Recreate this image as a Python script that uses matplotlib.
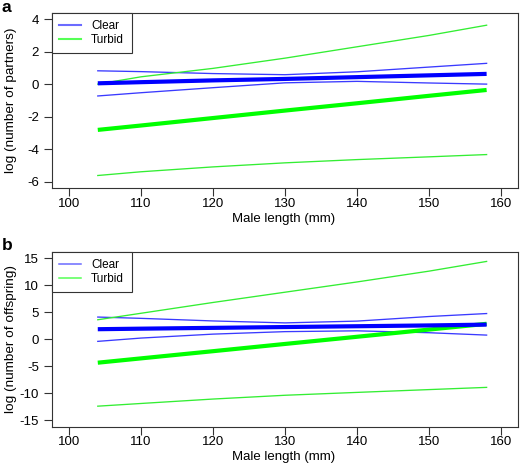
import matplotlib
matplotlib.use("Agg")
import matplotlib.pyplot as plt
from matplotlib.lines import Line2D

plt.rcParams['font.family'] = ['Liberation Sans', 'DejaVu Sans']

# Male length (mm) sample points
length = [104, 110, 120, 130, 140, 150, 158]

# Panel a: log(number of partners)
a_clear_fit = [0.05, 0.12, 0.23, 0.32, 0.43, 0.54, 0.63]
a_clear_upper = [0.82, 0.77, 0.65, 0.58, 0.76, 1.05, 1.28]
a_clear_lower = [-0.73, -0.53, -0.22, 0.08, 0.17, 0.07, 0.0]
a_turbid_fit = [-2.82, -2.55, -2.09, -1.63, -1.18, -0.72, -0.36]
a_turbid_upper = [0.0, 0.45, 0.97, 1.60, 2.30, 3.00, 3.63]
a_turbid_lower = [-5.63, -5.40, -5.10, -4.85, -4.65, -4.48, -4.34]

# Panel b: log(number of offspring)
b_clear_fit = [1.85, 1.95, 2.10, 2.25, 2.40, 2.55, 2.70]
b_clear_upper = [4.10, 3.86, 3.38, 3.02, 3.35, 4.20, 4.75]
b_clear_lower = [-0.40, 0.21, 0.94, 1.40, 1.55, 1.20, 0.76]
b_turbid_fit = [-4.35, -3.55, -2.22, -0.88, 0.45, 1.78, 2.85]
b_turbid_upper = [3.60, 4.80, 6.80, 8.70, 10.60, 12.60, 14.40]
b_turbid_lower = [-12.40, -11.90, -11.08, -10.38, -9.85, -9.33, -8.92]

x_ticks = [100, 110, 120, 130, 140, 150, 160]
a_yticks = [-6, -4, -2, 0, 2, 4]
b_yticks = [-15, -10, -5, 0, 5, 10, 15]
legend_labels = ["Clear", "Turbid"]

BLUE = "#0000ff"
GREEN = "#00ff00"
THIN_BLUE = "#3a3aff"
THIN_GREEN = "#33ee33"

W, H = 520, 471
fig = plt.figure(figsize=(W / 100, H / 100), dpi=100)

def frac_box(left, top, right, bottom):
    return [left / W, 1 - bottom / H, (right - left) / W, (bottom - top) / H]

ax_a = fig.add_axes(frac_box(51.7, 12.7, 518.3, 188.0))
ax_b = fig.add_axes(frac_box(51.7, 251.7, 518.3, 426.7))

def draw(ax, fit_c, up_c, lo_c, fit_t, up_t, lo_t, yticks, ylabel, ylim, leg_lw):
    ax.plot(length, up_c, color=THIN_BLUE, lw=0.95)
    ax.plot(length, lo_c, color=THIN_BLUE, lw=0.95)
    ax.plot(length, up_t, color=THIN_GREEN, lw=0.95)
    ax.plot(length, lo_t, color=THIN_GREEN, lw=0.95)
    ax.plot(length, fit_t, color=GREEN, lw=3.0, solid_capstyle='butt')
    ax.plot(length, fit_c, color=BLUE, lw=3.0, solid_capstyle='butt')
    ax.set_xlim(97.6, 162.4)
    ax.set_ylim(*ylim)
    ax.set_xticks(x_ticks)
    ax.set_yticks(yticks)
    ax.set_yticklabels([str(v) for v in yticks])
    ax.tick_params(axis='both', direction='out', length=6, width=0.8,
                   labelsize=9.5, color='#333333')
    ax.tick_params(axis='x', pad=1.0)
    ax.tick_params(axis='y', pad=3.2)
    for s in ax.spines.values():
        s.set_linewidth(0.8)
        s.set_color('#333333')
    ax.set_xlabel("Male length (mm)", fontsize=9.5)
    ax.xaxis.set_label_coords(0.497, -0.14)
    ax.set_ylabel(ylabel, fontsize=9.7)
    ax.yaxis.label.set_va('center')
    ax.yaxis.set_label_coords(-0.088, 0.5)
    handles = [Line2D([], [], color="#6b6bff", lw=leg_lw),
               Line2D([], [], color="#55ff55", lw=leg_lw)]
    leg = ax.legend(handles, legend_labels, loc='upper left', borderaxespad=0,
                    fontsize=8.5, frameon=True, fancybox=False, framealpha=1,
                    edgecolor='#333333', handlelength=1.85, handletextpad=0.85,
                    borderpad=0.65, labelspacing=0.12)
    leg.get_frame().set_linewidth(0.8)

draw(ax_a, a_clear_fit, a_clear_upper, a_clear_lower,
     a_turbid_fit, a_turbid_upper, a_turbid_lower,
     a_yticks, "log (number of partners)", (-6.4, 4.4), 1.5)
draw(ax_b, b_clear_fit, b_clear_upper, b_clear_lower,
     b_turbid_fit, b_turbid_upper, b_turbid_lower,
     b_yticks, "log (number of offspring)", (-16.2, 16.2), 1.1)

fig.text(2 / W, 1 - 12 / H, "a", fontsize=12.5, fontweight='bold', va='baseline')
fig.text(2 / W, 1 - 250 / H, "b", fontsize=12.5, fontweight='bold', va='baseline')

fig.savefig("out.png", dpi=100)
